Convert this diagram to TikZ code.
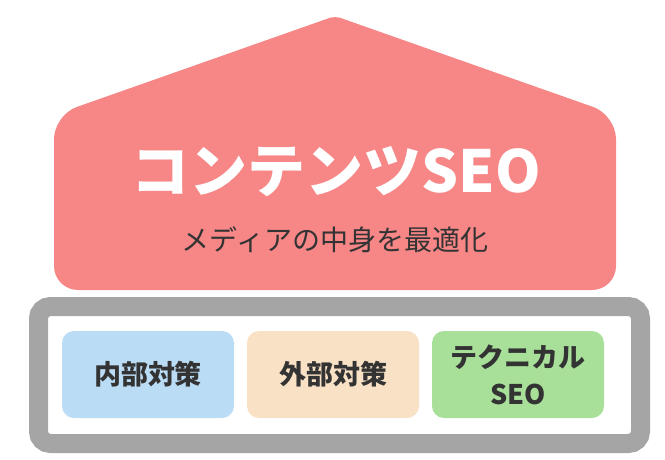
\documentclass[tikz,border=0pt]{standalone}
\usepackage{fontspec}
\newfontfamily\jpfont{Noto Sans CJK JP}
\usepackage{tikz}
\usetikzlibrary{positioning}

\definecolor{housepink}{HTML}{F78787}
\definecolor{framegray}{HTML}{A5A5A5}
\definecolor{textdark}{HTML}{333333}
\definecolor{boxblue}{HTML}{BBDCF5}
\definecolor{boxbeige}{HTML}{F8E1C4}
\definecolor{boxgreen}{HTML}{A8E09A}

\begin{document}
\begin{tikzpicture}[x=1pt,y=-1pt,
                    measure box/.style={rounded corners=12pt,minimum width=172pt,minimum height=87pt,
                      inner sep=0pt,align=center,font=\jpfont\bfseries\fontsize{27}{30}\selectfont,text=textdark}]

  \useasboundingbox (0,0) rectangle (665,459);

  % roof and body
  \fill[housepink,rounded corners=24pt] (54,200) -- (54,115) [rounded corners=6pt] -- (335,16)
       [rounded corners=24pt] -- (616,115) -- (616,290) -- (54,290) -- cycle;

  \node[text=white,font=\jpfont\bfseries\fontsize{58}{64}\selectfont] (title) at (336,172) {コンテンツSEO};
  \node[text=textdark,font=\jpfont\fontsize{28}{32}\selectfont] (sub) at (335,240) {メディアの中身を最適化};

  % foundation
  \node[draw=framegray,line width=19pt,rounded corners=12pt,minimum width=602pt,minimum height=137pt,
        inner sep=0pt] (base) at (339.5,375) {};

  \node[measure box,fill=boxblue] (inner) at (148,374.5) {内部対策};
  \node[measure box,fill=boxbeige] (outer) at (333,374.5) {外部対策};
  \node[measure box,fill=boxgreen,font=\jpfont\bfseries\fontsize{27}{37}\selectfont] (tech) at (518,374.5) {テクニカル\\SEO};
\end{tikzpicture}
\end{document}
